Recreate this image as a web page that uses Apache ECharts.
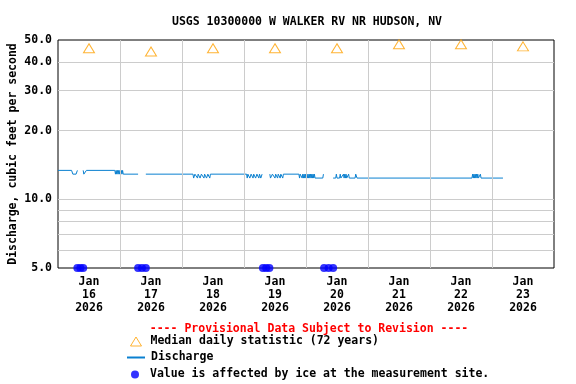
<!DOCTYPE html>
<html>
<head>
<meta charset="utf-8">
<script src="https://cdn.jsdelivr.net/npm/echarts@6/dist/echarts.min.js"></script>
<style>
html,body{margin:0;padding:0;background:#fff;}
#chart{width:576px;height:384px;}
</style>
</head>
<body>
<div id="chart"></div>
<script>
// ---- data ----
const titleText = 'USGS 10300000 W WALKER RV NR HUDSON, NV';
const provisionalText = '---- Provisional Data Subject to Revision ----';
const yAxisName = 'Discharge, cubic feet per second';
const medianName = 'Median daily statistic (72 years)';
const dischargeName = 'Discharge';
const iceName = 'Value is affected by ice at the measurement site.';
const dayCategories = ['16', '17', '18', '19', '20', '21', '22', '23'];
const monthLabel = 'Jan';
const yearLabel = '2026';
const xStart = '01-16 00:00';
const xEnd = '01-24 00:00';
const dayBoundaries = ['01-17 00:00', '01-18 00:00', '01-19 00:00', '01-20 00:00', '01-21 00:00', '01-22 00:00', '01-23 00:00'];
const yGridValues = [5, 6, 7, 8, 9, 10, 20, 30, 40, 50];
const yLabelValues = [5, 10, 20, 30, 40, 50];

const medianTimes = ['01-16 12:00', '01-17 12:00', '01-18 12:00', '01-19 12:00', '01-20 12:00', '01-21 12:00', '01-22 12:00', '01-23 12:00'];
const medianValues = [46.0, 44.5, 46.0, 46.0, 46.0, 47.9, 47.9, 46.9];

const iceTimes = ['01-16 07:30', '01-16 08:40', '01-16 09:45',
                  '01-17 07:00', '01-17 08:30', '01-17 10:00',
                  '01-19 07:20', '01-19 08:35', '01-19 09:50',
                  '01-20 07:00', '01-20 08:45', '01-20 10:30'];
const iceValues = [5, 5, 5, 5, 5, 5, 5, 5, 5, 5, 5, 5];

const discharge = [
  ['01-16 00:00', 13.4], ['01-16 05:15', 13.4], ['01-16 05:45', 12.9], ['01-16 07:00', 12.9], ['01-16 07:30', 13.4],
  ['01-16 08:30', null],
  ['01-16 09:45', 13.4], ['01-16 10:00', 12.9], ['01-16 10:45', 12.9], ['01-16 11:00', 13.4],
  ['01-16 22:00', 13.4], ['01-16 22:15', 12.9], ['01-16 22:30', 13.4], ['01-16 22:45', 12.9], ['01-16 23:00', 13.4],
  ['01-16 23:15', 12.9], ['01-16 23:30', 13.4], ['01-16 23:45', 12.9], ['01-17 00:00', 13.4], ['01-17 00:15', 12.9],
  ['01-17 00:30', 13.4], ['01-17 00:45', 12.9], ['01-17 01:00', 13.4], ['01-17 01:15', 12.9],
  ['01-17 07:00', 12.9], ['01-17 08:30', null], ['01-17 10:00', 12.9],
  ['01-18 04:15', 12.9], ['01-18 04:30', 12.4], ['01-18 04:45', 12.4], ['01-18 05:00', 12.9], ['01-18 05:45', 12.9],
  ['01-18 06:00', 12.4], ['01-18 06:15', 12.9], ['01-18 06:45', 12.9], ['01-18 07:00', 12.4], ['01-18 07:15', 12.4],
  ['01-18 07:30', 12.9], ['01-18 08:15', 12.9], ['01-18 08:30', 12.4], ['01-18 08:45', 12.9], ['01-18 09:15', 12.9],
  ['01-18 09:30', 12.4], ['01-18 09:45', 12.4], ['01-18 10:00', 12.9], ['01-18 10:30', 12.9], ['01-18 10:45', 12.4],
  ['01-18 11:00', 12.9],
  ['01-19 01:00', 12.9], ['01-19 01:15', 12.4], ['01-19 01:30', 12.9], ['01-19 02:00', 12.9], ['01-19 02:15', 12.4],
  ['01-19 02:30', 12.4], ['01-19 02:45', 12.9], ['01-19 03:15', 12.9], ['01-19 03:30', 12.4], ['01-19 03:45', 12.9],
  ['01-19 04:15', 12.9], ['01-19 04:30', 12.4], ['01-19 04:45', 12.4], ['01-19 05:00', 12.9], ['01-19 05:30', 12.9],
  ['01-19 05:45', 12.4], ['01-19 06:00', 12.9], ['01-19 06:30', 12.4], ['01-19 06:45', 12.4], ['01-19 07:00', 12.9],
  ['01-19 07:15', 12.9], ['01-19 08:30', null],
  ['01-19 10:00', 12.9], ['01-19 10:15', 12.4], ['01-19 10:45', 12.4], ['01-19 11:00', 12.9], ['01-19 11:45', 12.9],
  ['01-19 12:00', 12.4], ['01-19 12:15', 12.9], ['01-19 12:45', 12.9], ['01-19 13:00', 12.4], ['01-19 13:15', 12.9],
  ['01-19 13:45', 12.9], ['01-19 14:00', 12.4], ['01-19 14:15', 12.9], ['01-19 14:45', 12.9], ['01-19 15:00', 12.4],
  ['01-19 15:15', 12.9],
  ['01-19 21:15', 12.9], ['01-19 21:30', 12.4], ['01-19 21:45', 12.9], ['01-19 22:15', 12.9], ['01-19 22:30', 12.4],
  ['01-19 22:45', 12.9], ['01-19 23:00', 12.4], ['01-19 23:15', 12.9], ['01-19 23:30', 12.4], ['01-19 23:45', 12.9],
  ['01-20 00:00', 12.4], ['01-20 00:15', 12.9], ['01-20 00:30', 12.4], ['01-20 00:45', 12.9], ['01-20 01:00', 12.4],
  ['01-20 01:15', 12.9], ['01-20 01:30', 12.4], ['01-20 01:45', 12.9], ['01-20 02:00', 12.4], ['01-20 02:15', 12.9],
  ['01-20 02:30', 12.4], ['01-20 02:45', 12.9], ['01-20 03:00', 12.4], ['01-20 03:15', 12.9], ['01-20 03:30', 12.4],
  ['01-20 06:30', 12.4], ['01-20 06:45', 12.9], ['01-20 08:45', null],
  ['01-20 10:30', 12.4], ['01-20 11:30', 12.4], ['01-20 11:45', 12.9], ['01-20 12:00', 12.4], ['01-20 13:00', 12.4],
  ['01-20 13:15', 12.9], ['01-20 13:30', 12.4], ['01-20 14:15', 12.4], ['01-20 14:30', 12.9], ['01-20 14:45', 12.4],
  ['01-20 15:00', 12.9], ['01-20 15:15', 12.4], ['01-20 15:30', 12.9], ['01-20 15:45', 12.4], ['01-20 16:15', 12.4],
  ['01-20 16:30', 12.9], ['01-20 16:45', 12.4], ['01-20 19:00', 12.4], ['01-20 19:15', 12.9], ['01-20 19:30', 12.9],
  ['01-20 19:45', 12.4],
  ['01-22 16:15', 12.4], ['01-22 16:30', 12.9], ['01-22 16:45', 12.4], ['01-22 17:00', 12.9], ['01-22 17:15', 12.4],
  ['01-22 17:30', 12.9], ['01-22 17:45', 12.4], ['01-22 18:00', 12.9], ['01-22 18:15', 12.4], ['01-22 18:30', 12.9],
  ['01-22 18:45', 12.4], ['01-22 19:15', 12.4], ['01-22 19:30', 12.9], ['01-22 19:45', 12.4],
  ['01-23 04:15', 12.4]
];

// ---- helpers ----
function T(s) {
  const m = s.match(/(\d+)-(\d+) (\d+):(\d+)/);
  return Date.UTC(2026, +m[1] - 1, +m[2], +m[3], +m[4]);
}
const FONT = 'DejaVu Sans Mono';
const FS = 11.5;
const ORANGE = '#ffa000';
const BLUE = '#0a80d0';

const chart = echarts.init(document.getElementById('chart'), null, {renderer: 'canvas'});

const gridLineData = [];
yGridValues.forEach(function (v) {
  const edge = (v === yGridValues[0] || v === yGridValues[yGridValues.length - 1]);
  const labeled = yLabelValues.indexOf(v) >= 0;
  gridLineData.push({
    yAxis: v,
    lineStyle: {color: edge ? 'rgba(0,0,0,0)' : '#cccccc', width: 1, type: 'solid'},
    label: {show: labeled}
  });
});
dayBoundaries.forEach(function (d) {
  gridLineData.push({xAxis: T(d), lineStyle: {color: '#cccccc', width: 1, type: 'solid'}, label: {show: false}});
});

function legendText(padLeft) {
  return {fontFamily: FONT, fontSize: FS, fontWeight: 'bold', color: '#000', padding: [0, 0, 0, padLeft]};
}

const option = {
  animation: false,
  backgroundColor: '#ffffff',
  title: [
    {text: titleText, left: 302, top: 11, textAlign: 'center',
     textStyle: {fontFamily: FONT, fontSize: FS, fontWeight: 'bold', color: '#000'}},
    {text: provisionalText, left: 304, top: 318, textAlign: 'center',
     textStyle: {fontFamily: FONT, fontSize: FS, fontWeight: 'bold', color: '#ff0000'}}
  ],
  legend: [
    {orient: 'vertical', left: 130, top: 335.5, padding: 0, itemWidth: 11, itemHeight: 9,
     itemStyle: {borderWidth: 1},
     textStyle: legendText(4),
     data: [{name: medianName, icon: 'triangle'}]},
    {orient: 'vertical', left: 126, top: 351.5, padding: 0, itemWidth: 18, itemHeight: 10,
     textStyle: legendText(1),
     data: [{name: dischargeName, itemStyle: {opacity: 0}}]},
    {orient: 'vertical', left: 131, top: 368.5, padding: 0, itemWidth: 8, itemHeight: 8,
     textStyle: legendText(6),
     data: [{name: iceName, icon: 'circle'}]}
  ],
  grid: {left: 58, right: 22, top: 40, bottom: 116, outerBoundsMode: 'none', containLabel: false,
    show: true, borderColor: '#000', borderWidth: 1, backgroundColor: 'rgba(0,0,0,0)'},
  xAxis: [
    {type: 'value', min: T(xStart), max: T(xEnd), show: false},
    {type: 'category', position: 'bottom', boundaryGap: true,
     data: dayCategories,
     axisLine: {show: false}, axisTick: {show: false}, splitLine: {show: false},
     axisLabel: {interval: 0, margin: 8, fontFamily: FONT, fontSize: FS, fontWeight: 'bold', color: '#000', lineHeight: 13,
       formatter: function (v) { return monthLabel + '\n' + v + '\n' + yearLabel; }}}
  ],
  yAxis: {
    type: 'log', logBase: 10, min: 5, max: 50,
    axisLine: {show: false}, axisTick: {show: false}, axisLabel: {show: false}, splitLine: {show: false},
    minorSplitLine: {show: false},
    name: yAxisName, nameLocation: 'middle', nameGap: 39, nameRotate: 90,
    nameTextStyle: {fontFamily: FONT, fontSize: FS, fontWeight: 'bold', color: '#000', padding: [0, 0, 0, 0]}
  },
  series: [
    {
      name: '_grid', type: 'line', data: [], z: 1, silent: true,
      markLine: {
        silent: true, symbol: ['none', 'none'], animation: false,
        label: {position: 'start', distance: 6, fontFamily: FONT, fontSize: FS, fontWeight: 'bold', color: '#000',
          formatter: function (p) { return Number(p.value).toFixed(1); }},
        data: gridLineData
      }
    },
    {
      name: dischargeName, type: 'line', xAxisIndex: 0, z: 3,
      data: discharge.map(function (d) { return [T(d[0]), d[1] === null ? '-' : d[1]]; }),
      symbol: 'none', showSymbol: false, connectNulls: false,
      lineStyle: {color: BLUE, width: 1}, itemStyle: {color: BLUE}
    },
    {
      name: medianName, type: 'scatter', xAxisIndex: 0, z: 4,
      data: medianTimes.map(function (t, i) { return [T(t), medianValues[i]]; }),
      symbol: 'triangle', symbolSize: [11, 9],
      itemStyle: {color: '#ffffff', borderColor: ORANGE, borderWidth: 1}
    },
    {
      name: iceName, type: 'scatter', xAxisIndex: 0, z: 5,
      data: iceTimes.map(function (t, i) { return [T(t), iceValues[i]]; }),
      symbol: 'circle', symbolSize: 8,
      itemStyle: {color: '#0000ff'}
    }
  ]
};
chart.setOption(option);
</script>
</body>
</html>
